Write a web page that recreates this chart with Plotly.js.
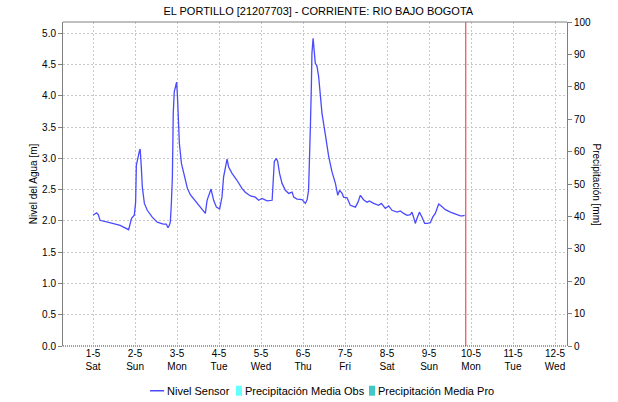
<!DOCTYPE html>
<html>
<head>
<meta charset="utf-8">
<script src="https://cdn.plot.ly/plotly-3.0.1.min.js"></script>
<style>html,body{margin:0;padding:0;background:#fff;}#chart{width:618px;height:402px;}</style>
</head>
<body>
<div id="chart"></div>
<script>
const chartTitle = 'EL PORTILLO [21207703] - CORRIENTE: RIO BAJO BOGOTA';
const times = [
'2021-05-01 00:00','2021-05-01 02:00','2021-05-01 03:00','2021-05-01 04:00','2021-05-01 10:00','2021-05-01 15:30','2021-05-01 20:20','2021-05-01 22:00','2021-05-01 23:35',
'2021-05-02 00:20','2021-05-02 00:45','2021-05-02 01:40','2021-05-02 02:30','2021-05-02 02:55','2021-05-02 03:20','2021-05-02 03:35','2021-05-02 04:10','2021-05-02 05:20','2021-05-02 07:00','2021-05-02 09:50','2021-05-02 12:40','2021-05-02 16:10','2021-05-02 17:50','2021-05-02 18:50','2021-05-02 19:35','2021-05-02 20:10','2021-05-02 20:45','2021-05-02 21:20','2021-05-02 21:50','2021-05-02 22:25','2021-05-02 23:10','2021-05-02 23:45',
'2021-05-03 00:10','2021-05-03 00:45','2021-05-03 01:20','2021-05-03 02:30','2021-05-03 04:10','2021-05-03 05:55','2021-05-03 07:35','2021-05-03 10:35','2021-05-03 13:20','2021-05-03 15:00','2021-05-03 16:10','2021-05-03 17:10','2021-05-03 18:10','2021-05-03 19:25','2021-05-03 20:55','2021-05-03 22:30',
'2021-05-04 00:20','2021-05-04 01:40','2021-05-04 02:35','2021-05-04 03:35','2021-05-04 04:35','2021-05-04 05:30','2021-05-04 07:25','2021-05-04 10:15','2021-05-04 13:05','2021-05-04 15:00','2021-05-04 17:55','2021-05-04 20:45','2021-05-04 22:35',
'2021-05-05 00:35','2021-05-05 03:25','2021-05-05 06:20','2021-05-05 06:50','2021-05-05 07:35','2021-05-05 08:45','2021-05-05 09:30','2021-05-05 10:35','2021-05-05 12:00','2021-05-05 13:55','2021-05-05 15:50','2021-05-05 17:45','2021-05-05 18:40','2021-05-05 20:35','2021-05-05 23:25',
'2021-05-06 01:20','2021-05-06 02:20','2021-05-06 03:10','2021-05-06 03:45','2021-05-06 04:15','2021-05-06 04:45','2021-05-06 05:05','2021-05-06 05:45','2021-05-06 06:15','2021-05-06 07:00','2021-05-06 07:55','2021-05-06 08:55','2021-05-06 09:55','2021-05-06 10:50','2021-05-06 12:45','2021-05-06 14:40','2021-05-06 16:35','2021-05-06 18:30','2021-05-06 19:50','2021-05-06 20:55','2021-05-06 22:20','2021-05-06 23:10',
'2021-05-07 01:10','2021-05-07 03:00','2021-05-07 05:55','2021-05-07 07:25','2021-05-07 08:45','2021-05-07 10:35','2021-05-07 12:35','2021-05-07 13:55','2021-05-07 16:20','2021-05-07 19:10','2021-05-07 20:45','2021-05-07 23:00',
'2021-05-08 00:55','2021-05-08 02:50','2021-05-08 05:45','2021-05-08 07:35','2021-05-08 09:30','2021-05-08 11:25','2021-05-08 13:20','2021-05-08 14:15','2021-05-08 15:10','2021-05-08 16:10','2021-05-08 17:05','2021-05-08 18:30','2021-05-08 20:00','2021-05-08 21:30','2021-05-08 22:50',
'2021-05-09 00:45','2021-05-09 02:05','2021-05-09 03:35','2021-05-09 04:35','2021-05-09 05:30','2021-05-09 07:00','2021-05-09 09:20','2021-05-09 12:10','2021-05-09 15:00','2021-05-09 17:55','2021-05-09 19:10','2021-05-09 20:20'
];
const nivelSensor = [
2.09,2.13,2.10,2.01,1.97,1.93,1.86,2.04,2.09,
2.30,2.89,3.05,3.12,3.15,3.00,2.86,2.54,2.28,2.17,2.06,1.98,1.95,1.95,1.89,1.93,1.98,2.28,2.70,3.72,4.07,4.15,4.22,
4.04,3.56,3.24,2.92,2.70,2.52,2.42,2.32,2.22,2.17,2.12,2.33,2.42,2.51,2.33,2.22,
2.19,2.38,2.70,2.86,2.99,2.86,2.76,2.65,2.52,2.46,2.40,2.38,2.33,
2.36,2.32,2.33,2.60,2.95,3.00,2.95,2.76,2.60,2.49,2.44,2.46,2.38,2.35,2.34,
2.28,2.34,2.49,2.92,3.56,4.15,4.68,4.92,4.73,4.52,4.48,4.31,4.00,3.72,3.38,3.03,2.78,2.60,2.41,2.49,2.44,2.38,
2.37,2.25,2.22,2.30,2.41,2.34,2.30,2.32,2.28,2.25,2.28,2.20,
2.24,2.17,2.14,2.16,2.12,2.09,2.10,2.14,2.06,1.96,2.04,2.14,2.06,1.96,1.96,
1.97,2.06,2.12,2.20,2.27,2.24,2.18,2.14,2.11,2.08,2.08,2.09
];
// No precipitation bars are visible in the chart (no data reported)
const precipObsTimes = ['2021-05-09 21:00'];
const precipObs = [null];
const precipProTimes = ['2021-05-09 21:00'];
const precipPro = [null];
const currentTime = '2021-05-09 21:00';
const xRange = ['2021-04-30 06:50', '2021-05-12 06:50'];
const tickDates = ['2021-05-01','2021-05-02','2021-05-03','2021-05-04','2021-05-05','2021-05-06','2021-05-07','2021-05-08','2021-05-09','2021-05-10','2021-05-11','2021-05-12'];
const tickDays = ['1-5','2-5','3-5','4-5','5-5','6-5','7-5','8-5','9-5','10-5','11-5','12-5'];
const tickWeekdays = ['Sat','Sun','Mon','Tue','Wed','Thu','Fri','Sat','Sun','Mon','Tue','Wed'];
const tickText = tickDays.map((d, i) => d + '<br>' + tickWeekdays[i]);

const FONT = 'Liberation Sans, Arial, sans-serif';
const traces = [
  {type: 'scatter', mode: 'lines', name: 'Nivel Sensor', x: times, y: nivelSensor,
   line: {color: '#4a4aff', width: 1.3}, yaxis: 'y', legend: 'legend'},
  {type: 'bar', name: 'Precipitación Media Obs', x: precipObsTimes, y: precipObs,
   marker: {color: '#66ffff'}, yaxis: 'y2', legend: 'legend2'},
  {type: 'bar', name: 'Precipitación Media Pro', x: precipProTimes, y: precipPro,
   marker: {color: '#40c8c8'}, yaxis: 'y2', legend: 'legend3'}
];
function legendAt(px) {
  return {orientation: 'h', xref: 'container', x: px / 618, xanchor: 'left',
    yref: 'container', y: 0.028, yanchor: 'middle', font: {size: 11},
    itemwidth: 30, bgcolor: 'rgba(0,0,0,0)', borderwidth: 0};
}
const layout = {
  width: 618, height: 402,
  margin: {l: 63, r: 51, t: 22, b: 56, autoexpand: false},
  paper_bgcolor: '#fff', plot_bgcolor: '#fff',
  font: {family: FONT, size: 10, color: '#000'},
  showlegend: true,
  title: {text: chartTitle, font: {family: FONT, size: 11, color: '#000'}, x: 0.515, xanchor: 'center', y: 0.972, yanchor: 'middle'},
  xaxis: {type: 'date', range: xRange, tickvals: tickDates, ticktext: tickText, automargin: false,
    showgrid: true, gridcolor: '#c8c8c8', griddash: '2px,2px', gridwidth: 1,
    ticks: '', showline: false, zeroline: false, tickfont: {size: 10}},
  yaxis: {range: [0, 5.181], dtick: 0.5, tick0: 0, tickformat: '.1f', automargin: false,
    showgrid: true, gridcolor: '#c8c8c8', griddash: '2px,2px', gridwidth: 1,
    ticks: 'outside', ticklen: 4, tickcolor: '#808080', showline: true, linecolor: '#808080',
    zeroline: false, tickfont: {size: 10},
    title: {text: 'Nivel del Agua [m]', font: {size: 10}, standoff: 2}},
  yaxis2: {overlaying: 'y', side: 'right', range: [0, 100], dtick: 10, showgrid: false, automargin: false,
    ticks: 'outside', ticklen: 4, tickcolor: '#808080', showline: true, linecolor: '#808080',
    zeroline: false, tickfont: {size: 10}},
  legend: legendAt(127),
  legend2: legendAt(205),
  legend3: legendAt(338),
  shapes: [
    {type: 'line', xref: 'x', yref: 'paper', x0: currentTime, x1: currentTime, y0: 0, y1: 1,
     line: {color: '#e03030', width: 1}},
    {type: 'line', xref: 'paper', yref: 'paper', x0: 0, x1: 1, y0: 1, y1: 1,
     line: {color: '#808080', width: 1}},
    {type: 'line', xref: 'paper', yref: 'paper', x0: 0, x1: 1, y0: 0, y1: 0,
     line: {color: '#404040', width: 1, dash: '1px,1px'}}
  ],
  annotations: [
    {text: 'Precipitación [mm]', xref: 'paper', yref: 'paper', x: 1.0, xshift: 37, y: 0.5,
     textangle: 90, showarrow: false, font: {size: 10}}
  ]
};
const gd = document.getElementById('chart');
// pull legend symbols closer to their labels (compact legend of the original chart)
function tightenLegend() {
  gd.querySelectorAll('g.traces').forEach(tr => {
    const txt = tr.querySelector('text.legendtext, text[class$="text"]');
    const layers = tr.querySelector('g.layers');
    if (!txt || !layers) return;
    const isLine = txt.textContent.indexOf('Nivel') === 0;
    layers.setAttribute('transform', isLine ? 'translate(20.7,0) scale(0.467,1)' : 'translate(24,0) scale(0.5,0.85)');
  });
}
Plotly.newPlot(gd, traces, layout, {displayModeBar: false, staticPlot: true}).then(() => {
  tightenLegend();
  gd.on('plotly_afterplot', tightenLegend);
  requestAnimationFrame(tightenLegend);
  [0, 20, 100, 300].forEach(t => setTimeout(tightenLegend, t));
});
</script>
</body>
</html>
